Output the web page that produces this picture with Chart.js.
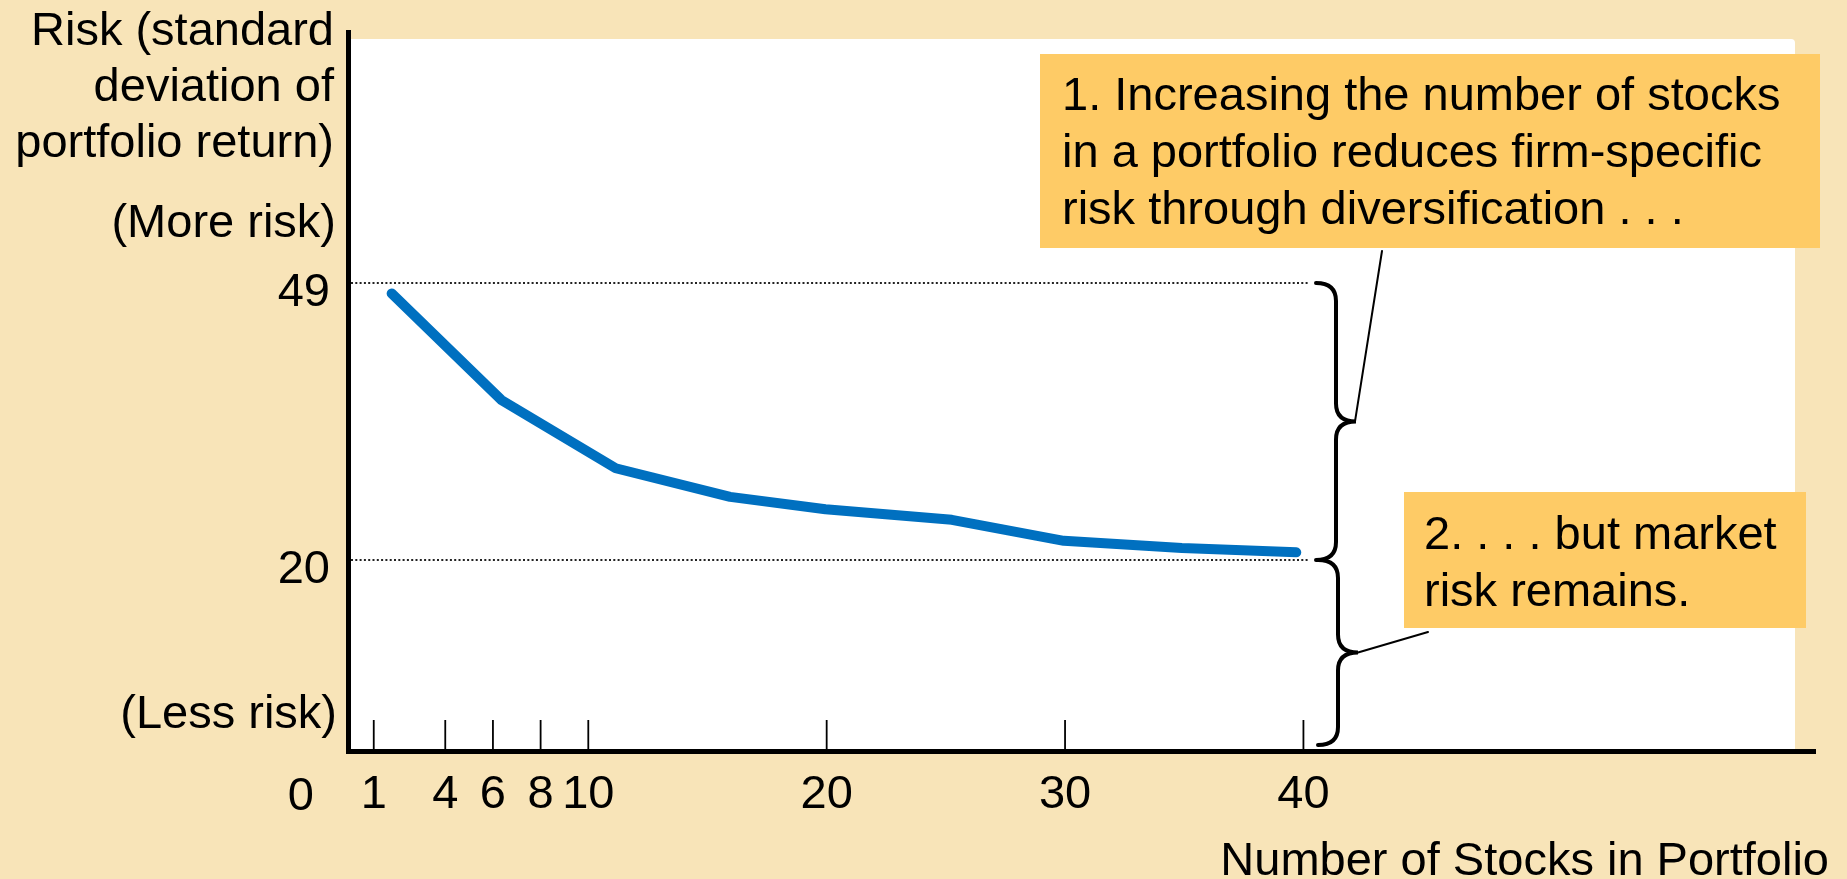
<!DOCTYPE html>
<html>
<head>
<meta charset="utf-8">
<script src="https://cdn.jsdelivr.net/npm/chart.js@4.4.1/dist/chart.umd.min.js"></script>
<style>
  html, body { margin: 0; padding: 0; background: #f8e4b8; }
  canvas { display: block; }
</style>
</head>
<body>
<canvas id="riskChart" width="1847" height="879"></canvas>
<script>
// data
const stockCounts = [1.75, 6.35, 11.15, 15.95, 19.95, 25.25, 29.95, 34.9, 39.7];
const riskValues = [47.9, 36.75, 29.6, 26.6, 25.3, 24.2, 22.0, 21.25, 20.8];
const xTickValues = [1, 4, 6, 8, 10, 20, 30, 40];
const yTickValues = [20, 49];

const yAxisLabel = ['Risk (standard', 'deviation of', 'portfolio return)'];
const moreRiskLabel = '(More risk)';
const lessRiskLabel = '(Less risk)';
const originLabel = '0';
const xAxisLabel = 'Number of Stocks in Portfolio';
const note1 = ['1. Increasing the number of stocks', 'in a portfolio reduces firm-specific', 'risk through diversification . . .'];
const note2 = ['2. . . . but market', 'risk remains.'];

const FAMILY = "'Liberation Sans', Arial, sans-serif";
const FONT = '47px ' + FAMILY;
const BG = '#f8e4b8';
const NOTE_BG = '#fecb66';

function brace(ctx, x, yTop, yBottom, r, arm) {
    const yMid = (yTop + yBottom) / 2;
    ctx.beginPath();
    ctx.moveTo(x - arm, yTop);
    ctx.quadraticCurveTo(x, yTop, x, yTop + r);
    ctx.lineTo(x, yMid - r);
    ctx.quadraticCurveTo(x, yMid, x + arm, yMid);
    ctx.quadraticCurveTo(x, yMid, x, yMid + r);
    ctx.lineTo(x, yBottom - r);
    ctx.quadraticCurveTo(x, yBottom, x - arm, yBottom);
    ctx.stroke();
}

const decorations = {
    id: 'decorations',
    beforeDraw(chart) {
        const {ctx, chartArea: a} = chart;
        ctx.save();
        ctx.fillStyle = BG;
        ctx.fillRect(0, 0, chart.width, chart.height);
        // white plot panel
        ctx.fillStyle = '#ffffff';
        ctx.beginPath();
        ctx.roundRect(a.left, a.top + 7, a.right - 20 - a.left, a.bottom - a.top - 7, [4, 4, 0, 0]);
        ctx.fill();
        ctx.restore();
    },
    beforeDatasetsDraw(chart) {
        const {ctx, chartArea: a, scales: {x, y}} = chart;
        ctx.save();
        // dotted reference lines
        ctx.strokeStyle = '#222';
        ctx.lineWidth = 2;
        ctx.setLineDash([2, 2.3]);
        yTickValues.forEach(v => {
            const py = Math.round(y.getPixelForValue(v));
            ctx.beginPath();
            ctx.moveTo(a.left + 3, py);
            ctx.lineTo(x.getPixelForValue(40.2), py);
            ctx.stroke();
        });
        ctx.setLineDash([]);
        // tick marks pointing into the plot
        ctx.strokeStyle = '#000';
        ctx.lineWidth = 1.8;
        xTickValues.forEach(v => {
            const px = x.getPixelForValue(v);
            ctx.beginPath();
            ctx.moveTo(px, a.bottom);
            ctx.lineTo(px, a.bottom - 31);
            ctx.stroke();
        });
        ctx.restore();
    },
    afterDraw(chart) {
        const {ctx, chartArea: a, scales: {x, y}} = chart;
        ctx.save();

        // braces
        ctx.strokeStyle = '#000';
        ctx.lineWidth = 4;
        ctx.lineCap = 'round';
        const y49 = y.getPixelForValue(49), y20 = y.getPixelForValue(20);
        brace(ctx, 1336, y49, y20, 18, 20);
        brace(ctx, 1338, y20, a.bottom - 6, 18, 20);

        // leader lines
        ctx.lineWidth = 2;
        ctx.beginPath();
        ctx.moveTo(1355, (y49 + y20) / 2);
        ctx.lineTo(1382, 251);
        ctx.stroke();
        ctx.beginPath();
        ctx.moveTo(1358, (y20 + a.bottom - 6) / 2);
        ctx.lineTo(1428, 632);
        ctx.stroke();

        // note boxes
        ctx.fillStyle = NOTE_BG;
        ctx.fillRect(1040, 54, 780, 194);
        ctx.fillRect(1404, 492, 402, 136);

        ctx.fillStyle = '#000';
        ctx.font = FONT;
        ctx.textBaseline = 'alphabetic';
        ctx.textAlign = 'left';
        note1.forEach((t, i) => ctx.fillText(t, 1062, 110 + i * 57));
        note2.forEach((t, i) => ctx.fillText(t, 1424, 549 + i * 57));

        // axis texts
        ctx.textAlign = 'right';
        yAxisLabel.forEach((t, i) => ctx.fillText(t, 334, 45 + i * 56));
        ctx.fillText(moreRiskLabel, 336, 237);
        ctx.fillText(lessRiskLabel, 337, 728);
        ctx.fillText(xAxisLabel, 1829, 875);
        // y tick labels, placed from the y scale
        yTickValues.forEach(v => {
            ctx.fillText(String(v), a.left - 18, y.getPixelForValue(v) + 23);
        });
        ctx.textAlign = 'center';
        ctx.fillText(originLabel, x.getPixelForValue(0) - 49, 810);

        ctx.restore();
    }
};

const ctx = document.getElementById('riskChart');
const riskChart = new Chart(ctx, {
    type: 'line',
    data: {
        datasets: [{
            data: stockCounts.map((v, i) => ({x: v, y: riskValues[i]})),
            borderColor: '#0070c0',
            borderWidth: 10,
            borderCapStyle: 'round',
            borderJoinStyle: 'round',
            pointRadius: 0,
            tension: 0,
            fill: false
        }]
    },
    options: {
        responsive: false,
        animation: false,
        devicePixelRatio: 1,
        events: [],
        layout: {
            padding: {left: 0, top: 32, right: 32, bottom: 0}
        },
        scales: {
            x: {
                type: 'linear',
                min: -0.08,
                max: 61.46,
                afterFit: s => { s.height = 128; },
                afterBuildTicks: s => { s.ticks = xTickValues.map(v => ({value: v})); },
                grid: {display: false, drawTicks: false},
                border: {display: true, color: '#000', width: 5},
                ticks: {
                    autoSkip: false,
                    maxRotation: 0,
                    padding: 16,
                    color: '#000',
                    font: {family: FAMILY, size: 47}
                }
            },
            y: {
                min: 0,
                max: 75.27,
                afterFit: s => { s.width = 348; },
                afterBuildTicks: s => { s.ticks = yTickValues.map(v => ({value: v})); },
                grid: {display: false, drawTicks: false},
                border: {display: true, color: '#000', width: 5},
                ticks: {display: false}
            }
        },
        plugins: {
            legend: {display: false},
            title: {display: false},
            tooltip: {enabled: false}
        }
    },
    plugins: [decorations]
});
</script>
</body>
</html>
